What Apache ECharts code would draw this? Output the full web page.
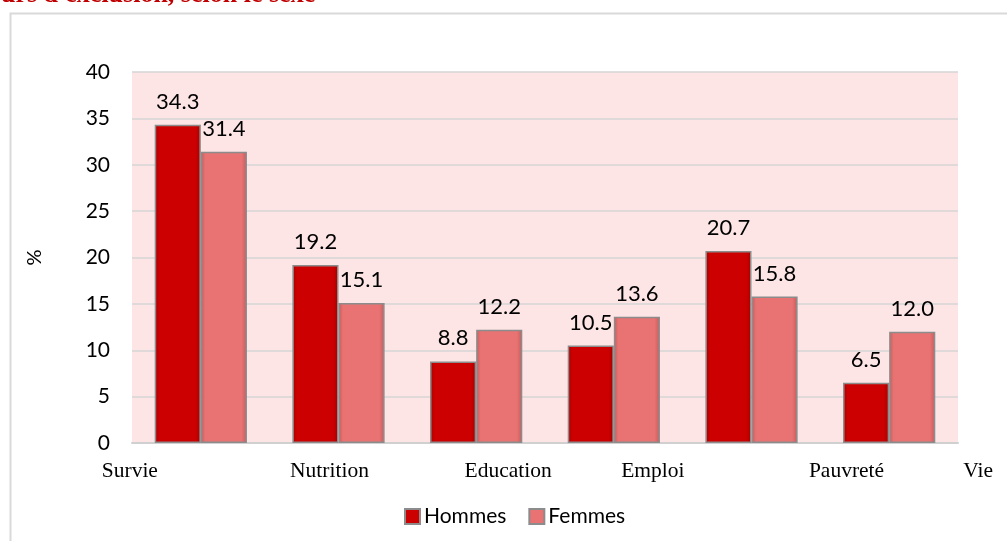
<!DOCTYPE html>
<html>
<head>
<meta charset="utf-8">
<script src="https://cdn.jsdelivr.net/npm/echarts@6/dist/echarts.min.js"></script>
<style>
  html, body { margin: 0; padding: 0; background: #fff; }
  #chart { width: 1007px; height: 541px; }
</style>
</head>
<body>
<div id="chart"></div>
<script>
// données
var categories = ['Survie', 'Nutrition', 'Education', 'Emploi', 'Pauvreté', 'Vie'];
var hommes = [34.3, 19.2, 8.8, 10.5, 20.7, 6.5];
var femmes = [31.4, 15.1, 12.2, 13.6, 15.8, 12.0];
var seriesNames = ['Hommes', 'Femmes'];
var titleText = "urs d'exclusion, selon le sexe";

// décalage horizontal des libellés (padding gauche / droite, en px)
var labelPad = [[0, 142], [0, 18], [64, 0], [78, 0], [190, 0], [178, 0]];

var rich = {};
labelPad.forEach(function (p, i) {
  rich['c' + i] = {
    fontFamily: 'Liberation Serif',
    fontSize: 21.5,
    color: '#000',
    padding: [0, p[1], 0, p[0]]
  };
});

function barStyle(base, edge) {
  return {
    color: {
      type: 'linear', x: 0, y: 0, x2: 1, y2: 0,
      colorStops: [
        { offset: 0, color: edge },
        { offset: 0.1, color: base },
        { offset: 0.88, color: base },
        { offset: 1, color: edge }
      ]
    },
    borderColor: '#8c8c8c',
    borderWidth: 1.5
  };
}

var valueLabel = {
  show: true,
  position: 'top',
  distance: 12,
  fontFamily: 'Lato',
  fontSize: 22,
  color: '#000',
  formatter: function (p) { return p.value.toFixed(1); }
};

var option = {
  animation: false,
  backgroundColor: '#fff',
  title: {
    text: titleText,
    left: -4,
    top: -23,
    textStyle: {
      fontFamily: 'Liberation Serif',
      fontWeight: 'bold',
      fontSize: 26,
      color: '#c00000'
    }
  },
  graphic: [{
    type: 'rect',
    left: 8, top: 11,
    shape: { width: 1100, height: 600 },
    style: { fill: 'none', stroke: '#d9d9d9', lineWidth: 2 },
    silent: true
  }],
  legend: {
    data: seriesNames,
    icon: 'rect',
    left: 399,
    top: 501,
    itemWidth: 15,
    itemHeight: 15,
    itemGap: 22,
    textStyle: { fontFamily: 'Lato', fontSize: 21, color: '#000', padding: [0, 0, 0, -1] }
  },
  grid: {
    left: 132, right: 49, top: 72, bottom: 98,
    show: true,
    backgroundColor: '#fde5e5',
    borderWidth: 0
  },
  xAxis: {
    type: 'category',
    data: categories,
    axisLine: { lineStyle: { color: '#d0d0d0', width: 2 } },
    axisTick: { show: false },
    axisLabel: {
      interval: 0,
      margin: 17,
      fontFamily: 'Liberation Serif',
      fontSize: 21.5,
      color: '#000',
      formatter: function (v, i) { return '{c' + i + '|' + v + '}'; },
      rich: rich
    }
  },
  yAxis: {
    type: 'value',
    min: 0, max: 40, interval: 5,
    name: '%',
    nameLocation: 'middle',
    nameGap: 87,
    nameRotate: 90,
    nameTextStyle: { fontFamily: 'Lato', fontSize: 20, color: '#000' },
    axisLine: { show: false },
    axisTick: { show: false },
    axisLabel: { margin: 22, fontFamily: 'Lato', fontSize: 21, color: '#000' },
    splitLine: { lineStyle: { color: '#d4d4d4', width: 1.5 } }
  },
  series: [{
    name: seriesNames[0],
    type: 'bar',
    data: hommes,
    barGap: '0%',
    barCategoryGap: '33%',
    itemStyle: barStyle('#cc0000', '#a80000'),
    label: valueLabel
  }, {
    name: seriesNames[1],
    type: 'bar',
    data: femmes,
    itemStyle: barStyle('#e97373', '#c75a5a'),
    label: valueLabel
  }]
};

var chart = echarts.init(document.getElementById('chart'));
chart.setOption(option);
window.addEventListener('resize', function () {
  chart.resize();
});
</script>
</body>
</html>
